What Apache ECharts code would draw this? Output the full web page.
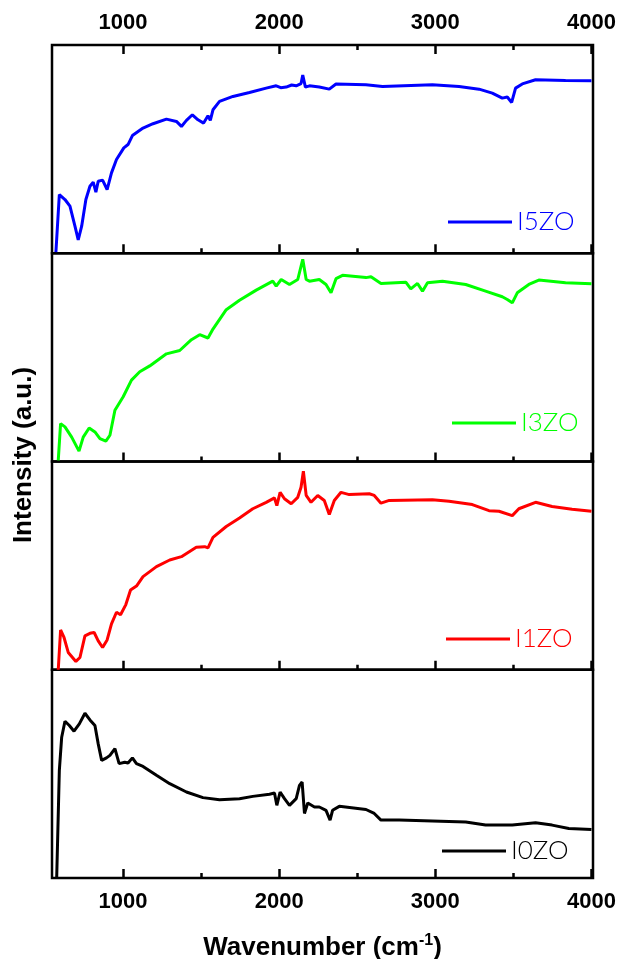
<!DOCTYPE html>
<html>
<head>
<meta charset="utf-8">
<script src="https://cdn.jsdelivr.net/npm/echarts@6/dist/echarts.min.js"></script>
<style>
  html, body { margin: 0; padding: 0; background: #fff; }
  #ftir { width: 619px; height: 959px; }
</style>
</head>
<body>
<div id="ftir"></div>
<script>
// x axis range (cm-1) and labelled ticks
var xMin = 545, xMax = 4010;
var majorTicks = [1000, 2000, 3000, 4000];
var minorTicks = [1500, 2500, 3500];

// intensity of each sample, 0 = bottom of its panel, 100 = top
var names = ['I5ZO', 'I3ZO', 'I1ZO', 'I0ZO'];
var colors = ['#0000ff', '#00ff00', '#ff0000', '#000000'];

var i5zo = [
  [570, 0.5], [592, 28.2], [628, 25.8], [660, 22.6], [692, 13], [713, 6.4], [735, 13],
  [762, 25.8], [788, 32.2], [809, 34.1], [826, 29.3], [841, 34.6], [869, 35.1], [898, 30.6],
  [926, 38.6], [958, 45], [1005, 50.6], [1032, 52.2], [1060, 56.5], [1128, 60.1], [1192, 62.2],
  [1278, 64.4], [1342, 63.3], [1374, 60.9], [1406, 63.8], [1444, 66.5], [1480, 64.1], [1516, 62.5],
  [1544, 66], [1559, 63.8], [1576, 68.9], [1618, 72.9], [1704, 75.3], [1810, 77.2], [1917, 79.3],
  [1981, 80.4], [2010, 79.5], [2045, 79.8], [2080, 80.8], [2109, 80.4], [2140, 81.5], [2151, 85.6],
  [2168, 79.8], [2194, 80.4], [2257, 79.8], [2321, 78.8], [2364, 81.3], [2556, 80.9], [2662, 80.1],
  [2981, 80.9], [3152, 80.1], [3280, 78.8], [3365, 76.9], [3429, 74.5], [3461, 75], [3489, 72.4],
  [3514, 79.3], [3557, 81.3], [3642, 83.3], [3834, 82.9], [4000, 82.8]
];
var i3zo = [
  [585, 0.5], [600, 18.2], [628, 16.6], [671, 11.7], [718, 5], [745, 11.7], [783, 16.1],
  [820, 14.2], [852, 11], [890, 9.8], [916, 12.6], [948, 24.6], [1001, 31.1], [1054, 39.1],
  [1107, 43.1], [1171, 45.9], [1278, 51.7], [1363, 53.3], [1438, 58.5], [1491, 60.9], [1544, 59.3],
  [1576, 63.6], [1661, 72.9], [1746, 77.4], [1853, 82.3], [1959, 86.6], [1981, 84.2], [2013, 87.4],
  [2066, 85], [2119, 87.4], [2151, 97.1], [2173, 87.4], [2194, 86.6], [2257, 87.4], [2300, 85],
  [2332, 81], [2364, 87.8], [2406, 89.4], [2556, 88.3], [2588, 88.7], [2652, 85.5], [2811, 86.1],
  [2843, 82.9], [2886, 85.5], [2918, 81.8], [2950, 85.8], [3046, 86.6], [3195, 85], [3322, 81.8],
  [3429, 79.1], [3461, 77.8], [3493, 76.2], [3525, 81], [3599, 85], [3663, 87.1], [3834, 85.8],
  [4000, 85.4]
];
var i1zo = [
  [585, 0], [600, 19.1], [622, 15.5], [649, 8.3], [698, 4], [724, 5.9], [756, 16.3], [788, 17.5],
  [815, 17.9], [841, 13.9], [869, 10.7], [898, 14.3], [926, 22], [958, 27.6], [984, 26.4],
  [1018, 31.3], [1048, 38.3], [1086, 40.2], [1128, 44.7], [1214, 49.5], [1299, 52.7], [1374, 54.3],
  [1469, 58.8], [1523, 59.1], [1544, 58.5], [1576, 63.6], [1661, 68.8], [1746, 72.9], [1831, 77.3],
  [1917, 80.4], [1970, 82.5], [1985, 78.8], [2006, 85.2], [2034, 82.1], [2077, 79.7], [2119, 82.8],
  [2140, 87.6], [2155, 95.3], [2173, 83.7], [2204, 80.4], [2247, 83.7], [2289, 81.3], [2321, 74.5],
  [2353, 81.3], [2396, 85.2], [2449, 84.1], [2577, 84.5], [2609, 83.7], [2652, 80], [2705, 81.3],
  [2981, 81.6], [3088, 80.9], [3237, 79.3], [3344, 76.4], [3408, 76.1], [3493, 74], [3535, 77.3],
  [3642, 80.4], [3748, 78.4], [3876, 77.1], [4000, 76.1]
];
var i0zo = [
  [575, 0], [592, 51.7], [607, 67.6], [628, 75.3], [656, 73.2], [686, 70.5], [720, 74], [756, 79.1],
  [788, 75.9], [820, 73.2], [841, 64.4], [863, 56.5], [894, 57.7], [916, 58.9], [948, 62.1],
  [975, 54.9], [1011, 55.6], [1032, 55.2], [1060, 57.7], [1086, 54.9], [1128, 53.6], [1214, 49.3],
  [1299, 45.3], [1406, 41.3], [1512, 38.6], [1618, 37.6], [1746, 38.1], [1831, 39.2], [1938, 40.2],
  [1970, 40.8], [1985, 34.9], [2006, 41.3], [2034, 38.1], [2066, 34.9], [2109, 38.1], [2130, 44.5],
  [2147, 46.1], [2162, 31], [2183, 36], [2226, 34.1], [2257, 34.1], [2300, 32.5], [2326, 27.8],
  [2342, 32.5], [2385, 34.4], [2556, 32.9], [2609, 31], [2652, 27.8], [2769, 27.8], [2981, 27.4],
  [3195, 26.9], [3322, 25.4], [3493, 25.4], [3642, 26.5], [3748, 25.4], [3855, 23.8], [4000, 23.3]
];
var spectra = [i5zo, i3zo, i1zo, i0zo];

// legend anchor per panel: left edge of the line, vertical centre
var legendPos = [[448, 224], [452, 425], [446, 641], [442, 853]];

var chart = echarts.init(document.getElementById('ftir'));

var gridTop = 45, panelH = 208.25;
var grids = [], xAxes = [], yAxes = [], series = [], legends = [];
var tickFont = 'Liberation Sans, Arial, sans-serif';

function tickAxis(gi, pos, values, len, showLabel) {
  return {
    type: 'value', gridIndex: gi, position: pos, min: xMin, max: xMax,
    axisLine: { show: false },
    splitLine: { show: false },
    axisTick: { show: true, inside: true, length: len, customValues: values,
      lineStyle: { color: '#000', width: 2.5 } },
    axisLabel: { show: showLabel, customValues: values, margin: pos === 'top' ? 11 : 13,
      formatter: function (v) { return String(v); },
      color: '#000', fontSize: 22, fontWeight: 'bold', fontFamily: tickFont }
  };
}

for (var i = 0; i < 4; i++) {
  grids.push({
    left: 52, right: 26, top: gridTop + i * panelH, height: panelH,
    outerBoundsMode: 'none', containLabel: false,
    show: true, borderColor: '#000', borderWidth: 2.5, backgroundColor: 'transparent'
  });
  var xi = xAxes.length;
  var bottomMajor = tickAxis(i, 'bottom', majorTicks, 9, i === 3);
  if (i === 3) {
    bottomMajor.name = '{t|Wavenumber (cm}{s|-1}{t|)}';
    bottomMajor.nameLocation = 'middle';
    bottomMajor.nameGap = 55;
    bottomMajor.nameTextStyle = {
      rich: {
        t: { fontSize: 26, fontWeight: 'bold', color: '#000', fontFamily: tickFont },
        s: { fontSize: 16, fontWeight: 'bold', color: '#000', fontFamily: tickFont, padding: [0, 0, 14, 0] }
      }
    };
  }
  xAxes.push(bottomMajor);
  xAxes.push(tickAxis(i, 'bottom', minorTicks, 5, false));
  if (i === 0) {
    xAxes.push(tickAxis(i, 'top', majorTicks, 9, true));
    xAxes.push(tickAxis(i, 'top', minorTicks, 5, false));
  }
  yAxes.push({
    type: 'value', gridIndex: i, min: 0, max: 100,
    axisLine: { show: false }, axisTick: { show: false },
    axisLabel: { show: false }, splitLine: { show: false }
  });
  series.push({
    name: names[i], type: 'line', xAxisIndex: xi, yAxisIndex: i,
    data: spectra[i], showSymbol: false, smooth: false, animation: false,
    lineStyle: { color: colors[i], width: 3 }, itemStyle: { color: colors[i] }
  });
  legends.push({
    data: [names[i]], left: legendPos[i][0], top: legendPos[i][1] - 15,
    icon: 'rect', itemWidth: 64, itemHeight: 3, padding: 0,
    textStyle: { color: colors[i], fontSize: 26, fontWeight: 300, fontFamily: 'Lato, Open Sans, sans-serif' }
  });
}

chart.setOption({
  backgroundColor: '#fff',
  animation: false,
  grid: grids,
  xAxis: xAxes,
  yAxis: yAxes,
  legend: legends,
  series: series,
  graphic: [{
    type: 'text', x: 24, y: 455, rotation: Math.PI / 2,
    style: {
      text: 'Intensity (a.u.)', fill: '#000', fontSize: 26, fontWeight: 'bold',
      fontFamily: tickFont, align: 'center', verticalAlign: 'middle'
    }
  }]
});
</script>
</body>
</html>
